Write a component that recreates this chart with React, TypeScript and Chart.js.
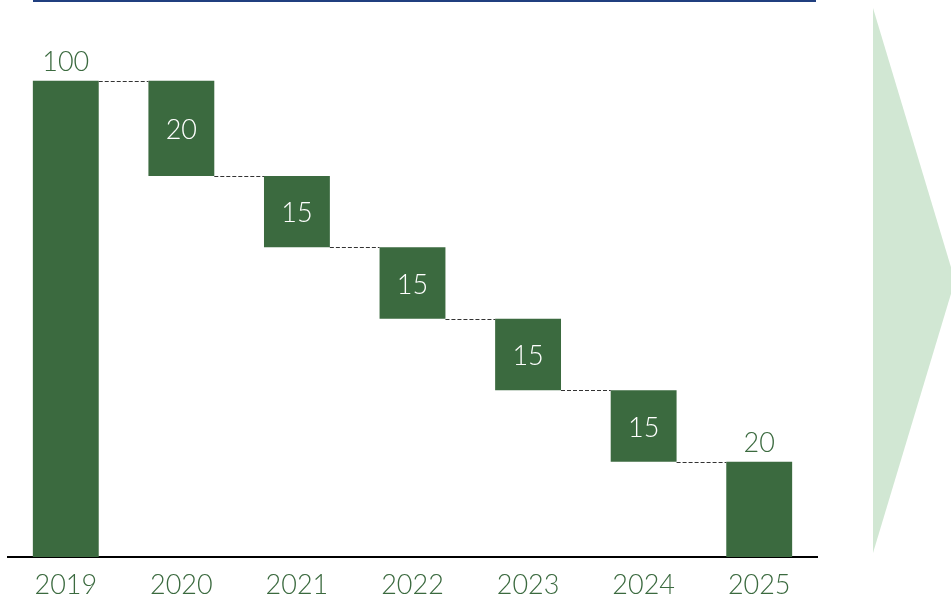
import React, { useEffect, useRef } from "react";
import { Chart, registerables } from "chart.js";

Chart.register(...registerables);

const categories = ["2019", "2020", "2021", "2022", "2023", "2024", "2025"];
const values = [100, -20, -15, -15, -15, -15, 20];
const isTotal = [true, false, false, false, false, false, true];

const BAR = "#3B6A3F";
const TEXT = "#3B6A3F";
const FONT = "Lato, 'Noto Sans', sans-serif";
const WEIGHT = "300";

function buildRanges(): [number, number][] {
  let running = 0;
  return values.map((v, i) => {
    if (isTotal[i]) {
      running = v;
      return [0, v] as [number, number];
    }
    const r: [number, number] = [running + v, running];
    running += v;
    return r;
  });
}

const decorPlugin = {
  id: "decor",
  beforeDraw(chart: any) {
    const ctx = chart.ctx;
    const area = chart.chartArea;
    ctx.save();
    ctx.fillStyle = "#D1E7D3";
    ctx.beginPath();
    ctx.moveTo(873, 8);
    ctx.lineTo(955, 280.5);
    ctx.lineTo(873, 553);
    ctx.closePath();
    ctx.fill();
    ctx.fillStyle = "#203F7F";
    ctx.fillRect(33, 0, area.right - 1 - 33, 2);
    ctx.restore();
  },
  afterDatasetsDraw(chart: any) {
    const ctx = chart.ctx;
    const meta = chart.getDatasetMeta(0);
    const yScale = chart.scales.y;
    const ranges = buildRanges();
    ctx.save();
    ctx.strokeStyle = "#333333";
    ctx.lineWidth = 1;
    ctx.setLineDash([4, 2]);
    let running = 0;
    for (let i = 0; i < values.length - 1; i++) {
      running = isTotal[i] ? values[i] : running + values[i];
      const a = meta.data[i];
      const b = meta.data[i + 1];
      const y = Math.round(yScale.getPixelForValue(running)) + 0.5;
      ctx.beginPath();
      ctx.moveTo(a.x + a.width / 2, y);
      ctx.lineTo(b.x - b.width / 2, y);
      ctx.stroke();
    }
    ctx.setLineDash([]);
    ctx.font = `${WEIGHT} 27px ${FONT}`;
    ctx.textAlign = "center";
    values.forEach((v, i) => {
      const el = meta.data[i];
      const [lo, hi] = ranges[i];
      const label = String(Math.abs(v));
      if (isTotal[i]) {
        ctx.fillStyle = TEXT;
        ctx.textBaseline = "alphabetic";
        ctx.fillText(label, el.x, yScale.getPixelForValue(hi) - 10);
      } else {
        ctx.fillStyle = "#FFFFFF";
        ctx.textBaseline = "middle";
        const yMid = (yScale.getPixelForValue(lo) + yScale.getPixelForValue(hi)) / 2;
        ctx.fillText(label, el.x, yMid + 2);
      }
    });
    ctx.restore();
  },
};

export default function App() {
  const ref = useRef<HTMLCanvasElement | null>(null);
  useEffect(() => {
    if (!ref.current) return;
    const chart = new Chart(ref.current, {
      type: "bar",
      data: {
        labels: categories,
        datasets: [
          {
            data: buildRanges() as any,
            backgroundColor: BAR,
            borderWidth: 0,
            borderSkipped: false,
            categoryPercentage: 1,
            barPercentage: 0.57,
          },
        ],
      },
      options: {
        animation: false,
        responsive: true,
        maintainAspectRatio: false,
        layout: { padding: { left: 8, right: 134, top: 33, bottom: 0 } },
        plugins: { legend: { display: false }, tooltip: { enabled: false } },
        scales: {
          x: {
            grid: { display: false, drawTicks: false },
            border: { display: true, color: "#000000", width: 2 },
            ticks: { color: TEXT, font: { family: FONT, size: 27, weight: WEIGHT as any }, padding: 12 },
            afterFit: (s: any) => {
              s.height = 41;
            },
          },
          y: {
            display: false,
            min: 0,
            max: 110,
          },
        },
      },
      plugins: [decorPlugin],
    });
    return () => chart.destroy();
  }, []);
  return (
    <div style={{ position: "fixed", left: 0, top: 0, width: 951, height: 598, background: "#fff" }}>
      <canvas ref={ref} />
    </div>
  );
}
